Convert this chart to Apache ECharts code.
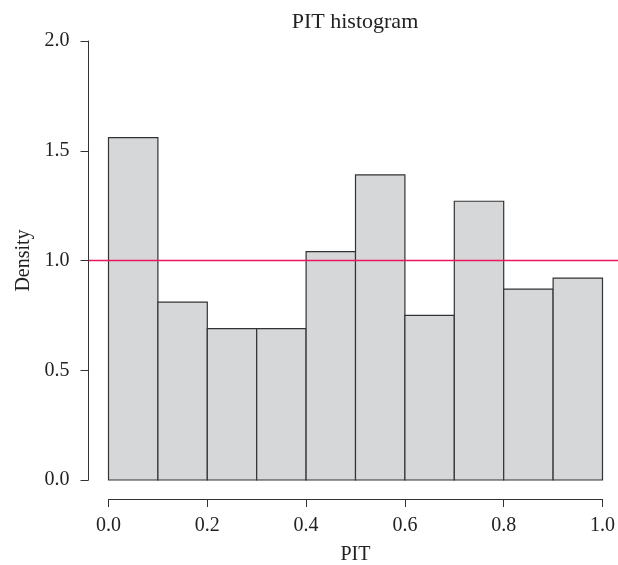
<!DOCTYPE html>
<html>
<head>
<meta charset="utf-8">
<script src="https://cdn.jsdelivr.net/npm/echarts@6/dist/echarts.min.js"></script>
<style>html,body{margin:0;padding:0;background:#fff}#c{width:618px;height:565px}</style>
</head>
<body>
<div id="c"></div>
<script>
const binStarts = [0.0, 0.1, 0.2, 0.3, 0.4, 0.5, 0.6, 0.7, 0.8, 0.9];
const binWidth = 0.1;
const densities = [1.56, 0.81, 0.69, 0.69, 1.04, 1.39, 0.75, 1.27, 0.87, 0.92];
const refLevel = 1.0;
const xTicks = [0.0, 0.2, 0.4, 0.6, 0.8, 1.0];
const yTicks = [0.0, 0.5, 1.0, 1.5, 2.0];

const FONT = 'Liberation Serif';
const chart = echarts.init(document.getElementById('c'), null, {renderer: 'canvas'});
const barData = binStarts.map((s, i) => [s, s + binWidth, densities[i]]);

chart.setOption({
  animation: false,
  backgroundColor: '#fff',
  title: {
    text: 'PIT histogram', left: 350, top: 6, textAlign: 'center',
    textStyle: {fontFamily: FONT, fontWeight: 'normal', fontSize: 22, color: '#222'}
  },
  grid: {left: 108.5, top: 41, width: 494, height: 439, outerBoundsMode: 'none', containLabel: false},
  xAxis: {
    type: 'value', min: 0, max: 1, interval: 0.2, offset: 19,
    name: 'PIT', nameLocation: 'middle', nameGap: 46,
    nameTextStyle: {fontFamily: FONT, fontSize: 20, color: '#222'},
    axisLine: {show: true, onZero: false, lineStyle: {color: '#333', width: 1}},
    axisTick: {show: true, length: 8, lineStyle: {color: '#333'}},
    axisLabel: {fontFamily: FONT, fontSize: 20, color: '#222', margin: 17,
      customValues: xTicks, formatter: v => v.toFixed(1)},
    splitLine: {show: false}
  },
  yAxis: {
    type: 'value', min: 0, max: 2, interval: 0.5, offset: 20,
    name: 'Density', nameLocation: 'middle', nameGap: 55, nameRotate: 90,
    nameTextStyle: {fontFamily: FONT, fontSize: 20, color: '#222'},
    axisLine: {show: true, onZero: false, lineStyle: {color: '#333', width: 1}},
    axisTick: {show: true, length: 8, lineStyle: {color: '#333'}},
    axisLabel: {fontFamily: FONT, fontSize: 20, color: '#222', margin: 19,
      formatter: v => v.toFixed(1)},
    splitLine: {show: false}
  },
  series: [
    {
      type: 'custom',
      data: barData,
      clip: false,
      renderItem: function (params, api) {
        const p0 = api.coord([api.value(0), api.value(2)]);
        const p1 = api.coord([api.value(1), 0]);
        return {
          type: 'rect',
          shape: {x: p0[0], y: p0[1], width: p1[0] - p0[0], height: p1[1] - p0[1]},
          style: {fill: '#D6D7D9', stroke: '#333', lineWidth: 1.2}
        };
      }
    },
    {
      type: 'custom',
      data: [[refLevel]],
      clip: false,
      z: 5,
      renderItem: function (params, api) {
        const a = api.coord([0, api.value(0)]);
        const b = api.coord([1, api.value(0)]);
        const ext = (b[0] - a[0]) * 0.04;
        return {
          type: 'line',
          shape: {x1: a[0] - ext, y1: a[1], x2: b[0] + ext, y2: b[1]},
          style: {stroke: '#E8185F', lineWidth: 1.5}
        };
      }
    }
  ]
});
</script>
</body>
</html>
